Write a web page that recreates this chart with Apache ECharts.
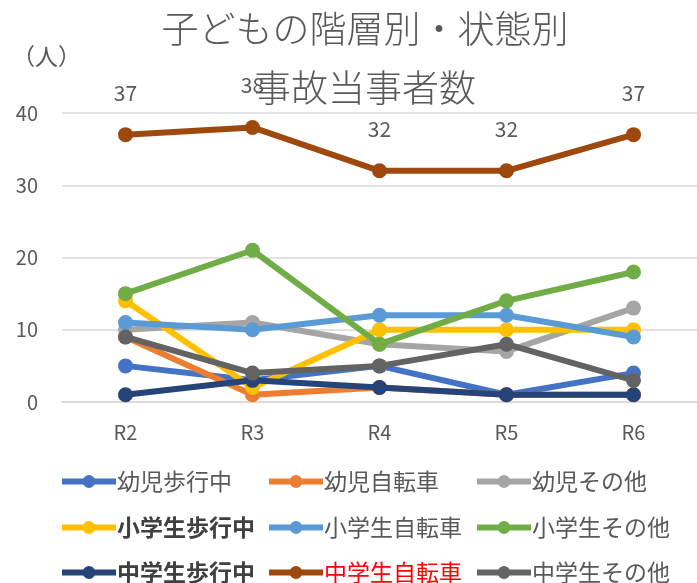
<!DOCTYPE html>
<html>
<head>
<meta charset="utf-8">
<script src="https://cdn.jsdelivr.net/npm/echarts@6/dist/echarts.min.js"></script>
<style>
  html, body { margin: 0; padding: 0; background: #fff; }
  #main { width: 697px; height: 583px; }
</style>
</head>
<body>
<div id="main"></div>
<script>
var categories = ['R2', 'R3', 'R4', 'R5', 'R6'];
var names = ['幼児歩行中', '幼児自転車', '幼児その他',
             '小学生歩行中', '小学生自転車', '小学生その他',
             '中学生歩行中', '中学生自転車', '中学生その他'];
var youjiHoko = [5, 3, 5, 1, 4];
var youjiJitensha = [9, 1, 2, 1, 1];
var youjiSonota = [10, 11, 8, 7, 13];
var shoHoko = [14, 2, 10, 10, 10];
var shoJitensha = [11, 10, 12, 12, 9];
var shoSonota = [15, 21, 8, 14, 18];
var chuHoko = [1, 3, 2, 1, 1];
var chuJitensha = [37, 38, 32, 32, 37];
var chuSonota = [9, 4, 5, 8, 3];
var yTicks = [0, 10, 20, 30, 40];

var colors = ['#4472C4', '#ED7D31', '#A5A5A5', '#FFC000', '#5B9BD5',
              '#70AD47', '#264478', '#9E480E', '#636363'];
var values = [youjiHoko, youjiJitensha, youjiSonota, shoHoko, shoJitensha,
              shoSonota, chuHoko, chuJitensha, chuSonota];
var font = '"Noto Sans CJK JP", "Noto Sans", sans-serif';

var chart = echarts.init(document.getElementById('main'));

var series = names.map(function(n, i) {
  var s = {
    name: n,
    type: 'line',
    data: values[i],
    symbol: 'circle',
    symbolSize: 15,
    lineStyle: { width: 6, color: colors[i] },
    itemStyle: { color: colors[i] },
    z: 2 + i * 0.01
  };
  if (i === 7) {
    s.label = {
      show: true, position: 'top', distance: 24,
      color: '#595959', fontSize: 21, fontFamily: font
    };
  }
  return s;
});

// one legend per item, laid out 3x3 like the original
var colX = [59, 266, 474];
var rowY = [470, 516, 561];
var legends = names.map(function(n, i) {
  return {
    left: colX[i % 3],
    top: rowY[Math.floor(i / 3)],
    padding: 0,
    itemWidth: 54,
    itemHeight: 16,
    data: [n],
    lineStyle: { width: 6 },
    formatter: function(name) {
      if (name === '小学生歩行中' || name === '中学生歩行中') return '{b|' + name + '}';
      if (name === '中学生自転車') return '{r|' + name + '}';
      return name;
    },
    textStyle: {
      color: '#595959', fontSize: 23, fontFamily: font, padding: [0, 0, 0, -4],
      rich: {
        b: { fontSize: 23, fontWeight: 'bold', color: '#404040', fontFamily: font },
        r: { fontSize: 23, color: '#FF0000', fontFamily: font }
      }
    }
  };
});

chart.setOption({
  animation: false,
  title: {
    text: '子どもの階層別・状態別\n事故当事者数',
    left: 360,
    textAlign: 'center',
    top: -6,
    textStyle: {
      color: '#595959', fontSize: 37, fontWeight: 300,
      fontFamily: font, lineHeight: 59
    }
  },
  graphic: [{
    type: 'text',
    left: 12,
    top: 45,
    style: { text: '（人）', fill: '#595959', fontSize: 23, fontFamily: font }
  }],
  legend: legends,
  grid: { left: 62, top: 113, width: 643, height: 289 },
  xAxis: {
    type: 'category',
    data: categories,
    axisLine: { lineStyle: { color: '#D9D9D9', width: 1.5 } },
    axisTick: { show: false },
    axisLabel: { color: '#595959', fontSize: 20, fontFamily: font, margin: 20 }
  },
  yAxis: {
    type: 'value',
    min: yTicks[0],
    max: yTicks[yTicks.length - 1],
    interval: 10,
    axisLine: { show: false },
    axisTick: { show: false },
    axisLabel: { color: '#595959', fontSize: 20, fontFamily: font, margin: 24 },
    splitLine: { lineStyle: { color: '#D9D9D9', width: 1.5 } }
  },
  series: series
});
</script>
</body>
</html>
